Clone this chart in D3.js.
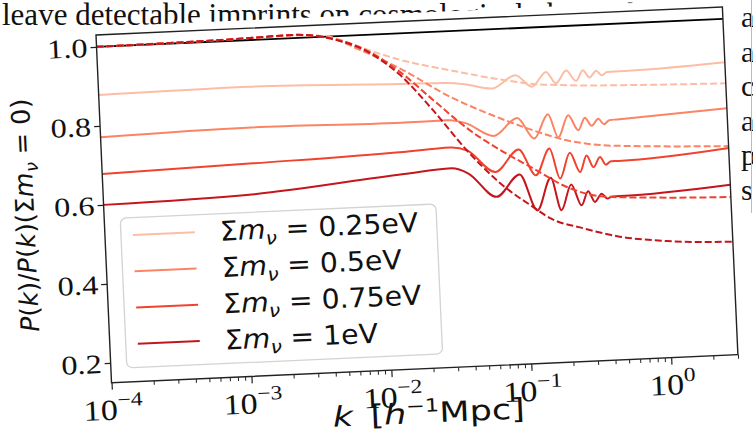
<!DOCTYPE html>
<html><head><meta charset="utf-8">
<script src="https://cdn.jsdelivr.net/npm/d3@7"></script>
<style>body{margin:0;background:#fff;overflow:hidden}</style>
</head><body><svg id="c" width="753" height="438"></svg>
<script>
// ---------- data ----------
const xMajor = [1e-4, 1e-3, 1e-2, 1e-1, 1];
const xMajorExp = ["\u22124", "\u22123", "\u22122", "\u22121", "0"];
const yTicks = [0.2, 0.4, 0.6, 0.8, 1.0];
const yTickLabels = ["0.2", "0.4", "0.6", "0.8", "1.0"];
const massLabels = ["0.25", "0.5", "0.75", "1"];
const colors = ["#fdbda5", "#fb8464", "#f0432f", "#c4161c"];

const kSolid   = [0.0001, 0.0012, 0.0142, 0.031, 0.041, 0.064, 0.095, 0.124, 0.158, 0.184, 0.220, 0.257, 0.289, 0.321, 0.360, 0.394, 0.430, 0.49, 3.0];
const solid025 = [0.878, 0.882, 0.872, 0.869, 0.864, 0.850, 0.881, 0.850, 0.886, 0.856, 0.887, 0.860, 0.886, 0.867, 0.883, 0.871, 0.879, 0.879, 0.890];
const solid05  = [0.771, 0.779, 0.774, 0.775, 0.765, 0.730, 0.773, 0.719, 0.779, 0.719, 0.774, 0.735, 0.766, 0.745, 0.762, 0.747, 0.757, 0.758, 0.774];
const solid075 = [0.678, 0.688, 0.700, 0.706, 0.696, 0.639, 0.693, 0.626, 0.692, 0.615, 0.679, 0.629, 0.670, 0.640, 0.665, 0.645, 0.653, 0.653, 0.673];
const solid1   = [0.600, 0.610, 0.644, 0.653, 0.638, 0.576, 0.630, 0.537, 0.618, 0.535, 0.599, 0.545, 0.580, 0.552, 0.572, 0.559, 0.564, 0.564, 0.580];

const kDash025 = [0.0001, 0.001, 0.0025, 0.0045, 0.0075, 0.0145, 0.0327, 0.074, 0.127, 0.22, 0.655, 3.0];
const dash025  = [1.000, 1.004, 1.007, 1.000, 0.970, 0.933, 0.901, 0.872, 0.857, 0.850, 0.843, 0.837];
const kDash05  = [0.0001, 0.001, 0.0025, 0.0045, 0.0076, 0.0144, 0.0321, 0.0718, 0.122, 0.211, 0.364, 0.625, 3.0];
const dash05   = [1.000, 1.004, 1.007, 0.998, 0.962, 0.911, 0.834, 0.774, 0.740, 0.711, 0.695, 0.689, 0.678];
const kDash075 = [0.0001, 0.001, 0.0025, 0.0045, 0.0089, 0.0144, 0.0242, 0.0413, 0.0701, 0.119, 0.204, 0.351, 0.796, 3.0];
const dash075  = [1.000, 1.004, 1.008, 0.997, 0.956, 0.902, 0.828, 0.753, 0.694, 0.644, 0.593, 0.566, 0.557, 0.549];
const kDash1   = [0.0001, 0.001, 0.0025, 0.0045, 0.0089, 0.0143, 0.024, 0.0406, 0.0686, 0.116, 0.152, 0.259, 0.451, 1.02, 3.0];
const dash1    = [1.000, 1.004, 1.008, 0.996, 0.953, 0.895, 0.802, 0.697, 0.610, 0.546, 0.516, 0.487, 0.463, 0.445, 0.436];

const kRef = [0.0001, 3.0];
const refRatio = [1.0, 1.0];

// ---------- layout ----------
const W = 627, H = 348;
const svg = d3.select("#c");
svg.append("rect").attr("width", 753).attr("height", 438).attr("fill", "#fff");

// page text behind the figure
const serif = "Liberation Serif, Times New Roman, serif";
svg.append("text").attr("x", 2).attr("y", 25).attr("font-family", serif).attr("font-size", 31)
  .attr("fill", "#111").text("leave detectable imprints on cosmological observables");
const rightLetters = ["a", "a", "c", "a", "p", "s"];
rightLetters.forEach((t, i) => {
  svg.append("text").attr("x", 741).attr("y", 27 + i * 34.6).attr("font-family", serif)
    .attr("font-size", 30).attr("fill", "#111").text(t);
});
svg.append("line").attr("x1", 751.5).attr("x2", 751.5).attr("y1", 0).attr("y2", 213)
  .attr("stroke", "#bbb").attr("stroke-width", 1);

const g = svg.append("g").attr("transform", "translate(96,35) rotate(-2.557)");
g.append("rect").attr("x", -140).attr("y", -8).attr("width", 778).attr("height", 540).attr("fill", "#fff");

const x = d3.scaleLog().domain([1e-4, 3.0]).range([0, W]);
const y = d3.scaleLinear().domain([0.15, 1.03]).range([H, 0]);

g.append("defs").append("clipPath").attr("id", "clip")
  .append("rect").attr("width", W).attr("height", H);

const line = d3.line().x(d => x(d[0])).y(d => y(d[1])).curve(d3.curveMonotoneX);
const plot = g.append("g").attr("clip-path", "url(#clip)");
const zip = (ks, vs) => ks.map((k, i) => [k, vs[i]]);

plot.append("path").attr("d", line(zip(kRef, refRatio))).attr("fill", "none")
  .attr("stroke", "#000").attr("stroke-width", 1.8);

const solids = [solid025, solid05, solid075, solid1];
solids.forEach((s, i) => {
  plot.append("path").attr("d", line(zip(kSolid, s))).attr("fill", "none")
    .attr("stroke", colors[i]).attr("stroke-width", 2);
});
const dashes = [[kDash025, dash025], [kDash05, dash05], [kDash075, dash075], [kDash1, dash1]];
dashes.forEach((d, i) => {
  plot.append("path").attr("d", line(zip(d[0], d[1]))).attr("fill", "none")
    .attr("stroke", colors[i]).attr("stroke-width", 2).attr("stroke-dasharray", "7,3");
});

// stretched text helper (the figure is slightly wider than tall)
function stretched(parent, tx, ty, sx) {
  return parent.append("g").attr("transform", `translate(${tx},${ty}) scale(${sx},1)`);
}

// axes
const yAxis = g.append("g").call(d3.axisLeft(y).tickValues(yTicks).tickSize(6).tickFormat(() => ""));
yAxis.select(".domain").remove();
yAxis.selectAll("line").attr("stroke", "#222").attr("stroke-width", 1.2);
yAxis.selectAll(".tick").each(function(d, i) {
  stretched(d3.select(this), -9, 0, 1.2).append("text").attr("text-anchor", "end").attr("dy", "0.34em")
    .attr("font-family", serif).attr("font-size", 27).attr("fill", "#111").text(yTickLabels[i]);
});

const minors = [];
for (let e = -4; e <= 0; e++) for (let m = 2; m <= 9; m++) { const v = m * Math.pow(10, e); if (v <= 3.0) minors.push(v); }
const xMinorAxis = g.append("g").attr("transform", `translate(0,${H})`)
  .call(d3.axisBottom(x).tickValues(minors).tickSize(4).tickFormat(() => ""));
xMinorAxis.select(".domain").remove();
xMinorAxis.selectAll("line").attr("stroke", "#222").attr("stroke-width", 1);

const xAxis = g.append("g").attr("transform", `translate(0,${H})`)
  .call(d3.axisBottom(x).tickValues(xMajor).tickSize(7).tickFormat(() => ""));
xAxis.select(".domain").remove();
xAxis.selectAll("line").attr("stroke", "#222").attr("stroke-width", 1.2);
xAxis.selectAll(".tick").each(function(d, i) {
  const t = stretched(d3.select(this), 0, 37, 1.18).append("text").attr("text-anchor", "middle")
    .attr("font-family", serif).attr("font-size", 29).attr("fill", "#111");
  t.append("tspan").text("10");
  t.append("tspan").attr("font-size", 20).attr("dy", -13).text(xMajorExp[i]);
});

// frame
g.append("rect").attr("width", W).attr("height", H).attr("fill", "none")
  .attr("stroke", "#222").attr("stroke-width", 1.4);

// axis labels
const sans = "DejaVu Sans, sans-serif";
const xl = stretched(g, W / 2 + 2, 402, 1.25).append("text").attr("text-anchor", "middle")
  .attr("font-family", sans).attr("font-size", 28).attr("fill", "#111");
xl.append("tspan").attr("font-style", "italic").text("k");
xl.append("tspan").attr("dx", 14).text("[");
xl.append("tspan").attr("font-style", "italic").text("h");
xl.append("tspan").attr("font-size", 18).attr("dy", -11).text("\u22121");
xl.append("tspan").attr("dy", 11).text("Mpc]");

const yl = g.append("text").attr("transform", "translate(-70,177) rotate(-90)").attr("text-anchor", "middle")
  .attr("font-family", sans).attr("font-size", 25.5).attr("fill", "#111");
yl.append("tspan").attr("font-style", "italic").text("P");
yl.append("tspan").text("(");
yl.append("tspan").attr("font-style", "italic").text("k");
yl.append("tspan").text(")/");
yl.append("tspan").attr("font-style", "italic").text("P");
yl.append("tspan").text("(");
yl.append("tspan").attr("font-style", "italic").text("k");
yl.append("tspan").text(")(\u03a3");
yl.append("tspan").attr("font-style", "italic").text("m");
yl.append("tspan").attr("font-style", "italic").attr("font-size", 18).attr("dy", 6).text("\u03bd");
yl.append("tspan").attr("dy", -6).text(" = 0)");

// legend
const leg = g.append("g");
leg.append("rect").attr("x", 16).attr("y", 184).attr("width", 316).attr("height", 150).attr("rx", 6)
  .attr("fill", "#fff").attr("fill-opacity", 0.85).attr("stroke", "#d3d3d3").attr("stroke-width", 1.3);
massLabels.forEach((m, i) => {
  const yy = 201.5 + i * 36.3;
  leg.append("line").attr("x1", 28).attr("x2", 90).attr("y1", yy).attr("y2", yy)
    .attr("stroke", colors[i]).attr("stroke-width", 2);
  const t = stretched(leg, 115, yy + 9.5, 1.05).append("text").attr("font-family", sans)
    .attr("font-size", 27).attr("fill", "#111");
  t.append("tspan").text("\u03a3");
  t.append("tspan").attr("font-style", "italic").text("m");
  t.append("tspan").attr("font-style", "italic").attr("font-size", 19).attr("dy", 6).text("\u03bd");
  t.append("tspan").attr("dy", -6).text(" = " + m + "eV");
});
</script></body></html>
